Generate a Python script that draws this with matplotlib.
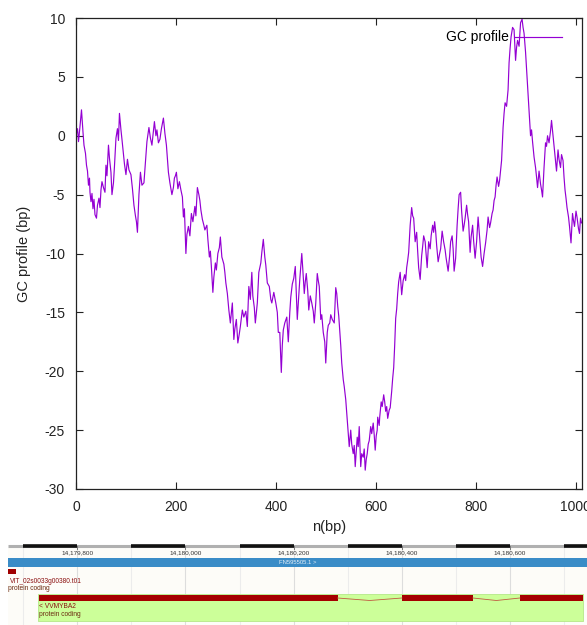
import numpy as np
import matplotlib
matplotlib.use("Agg")
import matplotlib.pyplot as plt
from matplotlib.patches import Rectangle

plt.rcParams['font.family'] = ['Liberation Sans', 'DejaVu Sans']
plt.rcParams['axes.unicode_minus'] = False

# GC profile (position in bp, cumulative value)
pos_bp = [
    0, 3, 5, 8, 11, 14, 16, 19, 21, 23, 25, 27, 28, 30, 32, 34, 36, 38, 41, 43,
    46, 48, 50, 52, 55, 58, 60, 62, 65, 67, 70, 72, 75, 77, 80, 83, 85, 87, 90, 92,
    95, 97, 100, 103, 106, 110, 113, 116, 119, 121, 123, 126, 129, 132, 136, 139, 142, 146, 149, 152,
    155, 157, 160, 162, 165, 168, 171, 175, 178, 181, 183, 185, 188, 192, 195, 197, 199, 201, 204, 207,
    210, 213, 215, 217, 220, 222, 225, 228, 231, 234, 238, 240, 243, 246, 248, 250, 253, 256, 258, 262,
    264, 267, 269, 271, 274, 276, 279, 281, 284, 287, 289, 292, 296, 298, 300, 303, 306, 309, 311, 313,
    316, 318, 321, 324, 327, 329, 333, 336, 340, 343, 346, 349, 352, 354, 357, 359, 363, 366, 370, 372,
    375, 378, 380, 383, 387, 390, 392, 396, 400, 403, 405, 408, 411, 413, 415, 418, 422, 425, 428, 430,
    433, 436, 439, 441, 443, 446, 448, 452, 454, 457, 459, 461, 464, 466, 469, 472, 475, 477, 480, 483,
    485, 487, 490, 492, 495, 498, 500, 503, 505, 508, 510, 513, 517, 520, 522, 524, 526, 528, 530, 532,
    535, 537, 540, 543, 545, 547, 550, 552, 555, 557, 559, 561, 563, 565, 567, 570, 572, 575, 577, 579,
    581, 583, 585, 587, 590, 592, 595, 597, 599, 601, 603, 604, 607, 608, 611, 613, 616, 618, 620, 622,
    624, 627, 629, 632, 634, 636, 638, 640, 642, 644, 646, 649, 652, 655, 658, 660, 662, 664, 666, 669,
    672, 674, 676, 679, 682, 684, 686, 689, 692, 694, 696, 699, 701, 703, 706, 709, 711, 714, 716, 718,
    720, 722, 725, 728, 730, 733, 736, 739, 741, 745, 748, 750, 753, 755, 757, 760, 763, 765, 767, 770,
    772, 775, 777, 779, 782, 784, 786, 789, 791, 794, 796, 799, 802, 805, 807, 809, 811, 814, 817, 820,
    823, 825, 828, 830, 833, 835, 837, 839, 841, 843, 846, 848, 850, 852, 855, 857, 859, 862, 865, 867,
    869, 871, 874, 877, 880, 882, 884, 887, 890, 893, 895, 897, 900, 903, 905, 907, 910, 912, 914, 917,
    920, 922, 924, 927, 930, 932, 934, 937, 940, 942, 944, 947, 950, 952, 955, 957, 959, 962, 965, 967,
    970, 972, 975, 977, 979, 981, 983, 986, 988, 991, 994, 996, 998, 1001, 1003, 1006, 1008, 1010, 1012,
]
gc_profile = [
    0.0, 0.6, -0.5, 0.8, 2.2, 0.3, -0.8, -1.5, -2.5, -3.0, -4.2, -3.6, -4.8, -5.6, -4.9, -6.2, -5.4, -6.7, -7.0, -5.9,
    -5.3, -6.1, -4.6, -3.9, -4.4, -4.8, -2.5, -3.4, -0.8, -1.9, -3.1, -5.0, -4.0, -2.6, -0.2, 0.6, -0.4, 1.9, 0.5, -0.3,
    -1.6, -2.4, -3.3, -2.0, -2.9, -3.3, -4.5, -5.9, -6.8, -7.3, -8.2, -5.0, -3.1, -4.2, -4.0, -2.2, -0.5, 0.7, -0.2, -0.8,
    0.4, 1.2, 0.0, 0.5, -0.6, -0.3, 0.6, 1.5, 0.2, -0.8, -2.0, -3.1, -4.0, -5.0, -4.4, -3.6, -3.4, -3.1, -4.5, -3.9,
    -4.6, -5.2, -6.9, -6.2, -10.0, -8.4, -7.7, -8.5, -6.6, -7.3, -6.0, -6.8, -4.4, -5.0, -5.5, -6.3, -7.1, -7.6, -8.0, -7.6,
    -8.8, -10.3, -9.8, -11.1, -13.3, -12.0, -10.8, -11.4, -10.0, -9.5, -8.6, -10.3, -10.9, -11.6, -12.5, -13.4, -14.8, -15.9, -15.0, -14.2,
    -17.3, -16.4, -15.6, -17.6, -16.8, -16.2, -14.8, -15.4, -14.9, -16.2, -12.8, -13.9, -11.6, -13.6, -14.6, -15.9, -14.2, -11.6, -10.8, -9.9,
    -8.8, -10.3, -11.0, -12.5, -12.8, -13.9, -14.2, -13.3, -14.2, -15.0, -16.7, -16.7, -20.1, -17.8, -16.5, -15.9, -15.4, -17.5, -15.0, -13.7,
    -12.6, -12.1, -11.1, -13.3, -15.6, -13.6, -12.2, -10.0, -11.3, -13.4, -12.4, -11.7, -13.2, -14.8, -13.6, -14.2, -14.9, -15.9, -14.2, -11.7,
    -12.3, -12.8, -15.6, -15.2, -16.7, -17.5, -19.3, -16.7, -16.1, -15.9, -15.2, -15.6, -15.9, -12.9, -13.4, -14.5, -15.3, -16.5, -17.8, -19.3,
    -20.7, -21.3, -22.4, -24.1, -25.3, -26.4, -25.0, -26.2, -27.0, -26.3, -28.1, -26.8, -25.6, -26.4, -24.7, -28.1, -27.0, -27.3, -26.6, -28.4,
    -27.5, -27.0, -26.2, -25.9, -24.7, -25.3, -24.4, -25.4, -26.7, -25.5, -25.0, -23.9, -24.6, -23.9, -22.6, -23.0, -22.0, -22.6, -23.4, -23.0,
    -24.0, -23.3, -23.1, -21.7, -20.6, -19.7, -17.8, -15.5, -14.7, -13.4, -12.4, -11.6, -13.5, -12.3, -11.8, -12.3, -11.2, -10.6, -9.9, -7.6,
    -6.1, -6.8, -7.0, -9.0, -8.2, -9.8, -11.2, -12.2, -10.2, -9.4, -8.5, -9.0, -10.1, -11.2, -9.0, -9.6, -8.5, -7.6, -8.2, -7.3,
    -8.1, -9.3, -10.7, -10.0, -9.6, -8.1, -9.0, -9.7, -10.4, -11.5, -10.2, -9.0, -8.5, -9.6, -11.5, -10.4, -7.6, -6.2, -5.0, -4.8,
    -6.4, -8.1, -7.6, -7.0, -5.9, -6.7, -7.3, -9.9, -8.6, -7.6, -8.9, -10.4, -9.0, -6.9, -8.0, -9.0, -10.3, -11.1, -10.0, -9.1,
    -8.0, -6.9, -7.8, -7.4, -6.6, -6.3, -5.5, -5.2, -4.2, -3.5, -4.3, -3.8, -2.9, -2.1, 0.7, 1.9, 2.8, 2.5, 3.9, 6.2,
    7.4, 8.4, 9.2, 9.0, 6.4, 7.5, 8.1, 7.6, 9.6, 9.9, 9.2, 8.7, 7.1, 5.0, 3.6, 2.2, 0.0, 0.5, -0.5, -1.8,
    -2.7, -3.5, -4.4, -3.0, -4.1, -4.6, -5.2, -2.7, -0.6, -0.9, 0.0, -0.6, 0.4, 1.3, 0.0, -0.8, -1.8, -3.0, -1.2, -2.0,
    -2.7, -1.6, -2.1, -3.5, -4.6, -5.3, -6.1, -6.9, -7.7, -9.1, -6.6, -7.2, -7.7, -6.4, -6.9, -7.9, -8.3, -7.0, -7.4,
]
x_ticks = [0, 200, 400, 600, 800, 1000]
y_ticks = [-30, -25, -20, -15, -10, -5, 0, 5, 10]

# genome browser track (genomic coordinates)
view_start, view_end = 14179672, 14180742
ruler_ticks = [14179800, 14180000, 14180200, 14180400, 14180600]
contig_label = "FN595505.1 >"
prev_gene = (14179672, 14179686)
prev_gene_name = "VIT_02s0033g00380.t01"
gene_span = (14179727, 14180734)
gene_exons = [(14179729, 14180281), (14180400, 14180531), (14180618, 14180734)]
gene_name = "< VVMYBA2"
biotype = "protein coding"

W, H = 587, 625
fig = plt.figure(figsize=(W / 100, H / 100), dpi=100)

# ---- GC profile panel ----
ax = fig.add_axes([76 / W, 1 - 489 / H, (582 - 76) / W, (489 - 18) / H])
ax.plot(pos_bp, gc_profile, color='#9400d3', lw=0.85, label='GC profile')
ax.set_xlim(0, 1013)
ax.set_ylim(-30, 10)
ax.set_xticks(x_ticks)
ax.set_yticks(y_ticks)
ax.tick_params(direction='in', length=5, width=0.8, top=True, right=True,
               labelsize=10, colors='#222222', pad=8)
for s in ax.spines.values():
    s.set_linewidth(0.9)
    s.set_color('#222222')
ax.set_xlabel('n(bp)', fontsize=10.5, color='#222222', labelpad=4)
ax.set_ylabel('GC profile (bp)', fontsize=10.5, color='#222222', labelpad=10)
ax.legend(loc='upper right', frameon=False, markerfirst=False, fontsize=10,
          handlelength=3.4, handletextpad=0.4, borderaxespad=0.5,
          bbox_to_anchor=(0.985, 1.0))

# ---- genome browser track ----
tk = fig.add_axes([0, 0, 1, 85 / H])
tk.set_xlim(view_start - 8 / 0.541, view_end)
tk.set_ylim(85, 0)
tk.axis('off')
tk.add_patch(Rectangle((view_start, 8), view_end - view_start, 77,
                       facecolor='#fdfcf8', edgecolor='none', zorder=0))

grid = np.arange(14179700, view_end, 100)
for g in grid:
    c = '#dddddd' if g in ruler_ticks else '#ececec'
    tk.plot([g, g], [8, 85], color=c, lw=0.8, zorder=1)

# ruler
tk.plot([view_start, view_end], [6, 6], color='#b0b0b0', lw=2.2, zorder=2, solid_capstyle='butt')
for g in grid[::2]:
    tk.plot([g, min(g + 100, view_end)], [6, 6], color='#111111', lw=2.6, zorder=3,
            solid_capstyle='butt')
for g in ruler_ticks:
    tk.plot([g, g], [6, 9], color='#777777', lw=0.7, zorder=3)
    tk.text(g, 13, f"{g:,}", fontsize=4.6, ha='center', va='center', color='#333333', zorder=4)

# contig
tk.add_patch(Rectangle((view_start, 18), view_end - view_start, 9,
                       facecolor='#3a8cc7', edgecolor='none', zorder=3))
tk.text((view_start + view_end) / 2, 22.5, contig_label, fontsize=4.2, ha='center', va='center',
        color='#e8f0f8', zorder=4)

# upstream transcript
tk.add_patch(Rectangle((prev_gene[0], 29), prev_gene[1] - prev_gene[0], 5,
                       facecolor='#a00000', edgecolor='none', zorder=3))
tk.text(view_start + 4, 41.5, prev_gene_name, fontsize=4.8, ha='left', va='center', color='#8b1010')
tk.text(view_start, 48.5, biotype, fontsize=4.8, ha='left', va='center', color='#6b2a10')

# VVMYBA2 gene
tk.add_patch(Rectangle((gene_span[0], 54), gene_span[1] - gene_span[0], 27,
                       facecolor='#ccff99', edgecolor='#b5e888', lw=0.6, zorder=2))
for a, b in gene_exons:
    tk.add_patch(Rectangle((a, 55), b - a, 6, facecolor='#a50000', edgecolor='none', zorder=3))
for (a0, b0), (a1, b1) in zip(gene_exons[:-1], gene_exons[1:]):
    tk.plot([b0, (b0 + a1) / 2, a1], [58, 60.5, 58], color='#c05a40', lw=0.6, zorder=3)
tk.text(gene_span[0] + 2, 67, gene_name, fontsize=4.8, ha='left', va='center', color='#8b1010')
tk.text(gene_span[0] + 2, 74, biotype, fontsize=4.8, ha='left', va='center', color='#6b2a10')

fig.savefig('out.png', dpi=100)
